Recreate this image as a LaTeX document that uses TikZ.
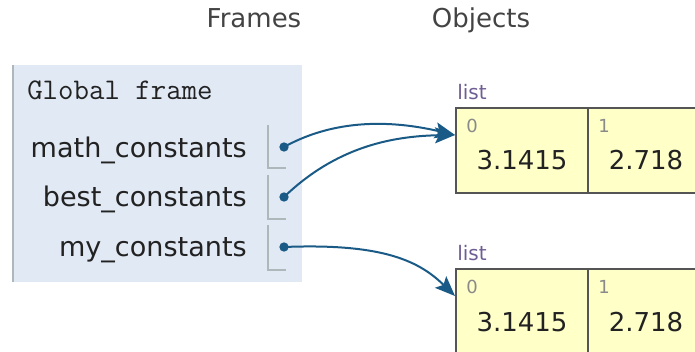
\documentclass[tikz,border=0pt]{standalone}
\usepackage{fontspec}
\setmainfont{DejaVu Sans}
\usetikzlibrary{arrows.meta}
\definecolor{framebg}{HTML}{E1E9F4}
\definecolor{frameborder}{HTML}{AEB8BA}
\definecolor{heapbg}{HTML}{FFFFC8}
\definecolor{heapborder}{HTML}{555555}
\definecolor{arrowcol}{HTML}{1A5A86}
\definecolor{typecol}{HTML}{6E5E94}
\definecolor{idxcol}{HTML}{8A8A8A}
\definecolor{txt}{HTML}{222222}
\tikzset{
  hdr/.style={font=\fontsize{19.5}{22}\selectfont, text=txt!85, inner sep=0pt, anchor=base},
  varname/.style={font=\fontsize{20.3}{22}\selectfont, text=txt, inner sep=0pt, anchor=base east},
  gtitle/.style={font=\ttfamily\fontsize{22.5}{24}\selectfont, text=txt, inner sep=0pt, anchor=base west},
  typelbl/.style={font=\fontsize{15}{17}\selectfont, text=typecol, inner sep=0pt, anchor=base west},
  idx/.style={font=\fontsize{13.5}{15}\selectfont, text=idxcol, inner sep=0pt, anchor=base west},
  val/.style={font=\fontsize{19.5}{22}\selectfont, text=txt, inner sep=0pt, anchor=base},
  slot/.style={draw=frameborder, line width=0.9pt},
  ptr/.style={draw=arrowcol, line width=1.5pt, -{Stealth[length=15pt,width=12pt,inset=3pt]}},
  dotstyle/.style={circle, fill=arrowcol, inner sep=0pt, minimum size=7pt},
}
\begin{document}
\begin{tikzpicture}[x=0.75pt, y=-0.75pt]
\useasboundingbox (0,0) rectangle (695,352);
\begin{scope}
\clip (0,0) rectangle (695,352);
% headers
\node[hdr] (hframes) at (254,28) {Frames};
\node[hdr] (hobjects) at (481,28) {Objects};
% frame
\fill[framebg] (12,65) rectangle (302,282);
\draw[frameborder, line width=1.8pt] (13,65) -- (13,282);
\node[gtitle] (gf) at (27,100) {Global frame};
% variable rows
\node[varname] (n1) at (247,158) {math\_constants};
\node[varname] (n2) at (247,207) {best\_constants};
\node[varname] (n3) at (247,257) {my\_constants};
\draw[slot] (268,125) -- (268,168) -- (286,168);
\draw[slot] (268,175) -- (268,219) -- (286,219);
\draw[slot] (268,225) -- (268,270) -- (286,270);
\node[dotstyle] (d1) at (284,147) {};
\node[dotstyle] (d2) at (284,197) {};
\node[dotstyle] (d3) at (284,247) {};
% list 1
\node[typelbl] (t1) at (457,100) {list};
\fill[heapbg] (456,108) rectangle (720,193);
\draw[heapborder, line width=1.2pt] (720,108) -- (456,108) -- (456,193) -- (720,193);
\draw[heapborder, line width=1.2pt] (588,108) -- (588,193);
\coordinate (l1in) at (455,135);
\node[idx] (i10) at (466,133) {0};
\node[idx] (i11) at (598,133) {1};
\node[val] (v10) at (522,170) {3.1415};
\node[val] (v11) at (646,170) {2.718};
% list 2
\node[typelbl] (t2) at (457,261) {list};
\fill[heapbg] (456,269) rectangle (720,360);
\draw[heapborder, line width=1.2pt] (720,269) -- (456,269) -- (456,360);
\draw[heapborder, line width=1.2pt] (588,269) -- (588,360);
\coordinate (l2in) at (455,296);
\node[idx] (i20) at (466,294) {0};
\node[idx] (i21) at (598,294) {1};
\node[val] (v20) at (522,331) {3.1415};
\node[val] (v21) at (646,331) {2.718};
% pointers
\draw[ptr] (d1.center) .. controls (340,116) and (400,122) .. (l1in);
\draw[ptr] (d2.center) .. controls (335,148) and (390,136) .. (l1in);
\draw[ptr] (d3.center) .. controls (385,243) and (420,262) .. (l2in);
\end{scope}
\end{tikzpicture}
\end{document}
